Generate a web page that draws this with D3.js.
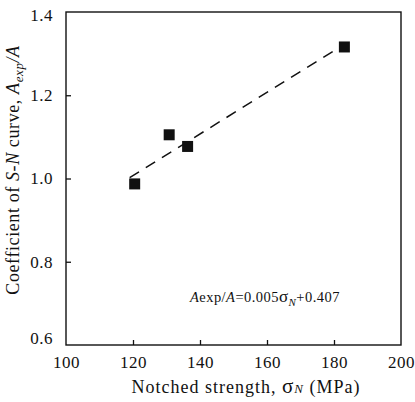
<!DOCTYPE html>
<meta charset="utf-8">
<style>
    body { margin: 0; background: #fff; }
    svg, .tick text { font-family: "Liberation Serif", "Times New Roman", serif; }
    .tick text { font-size: 17px; fill: #111; letter-spacing: 0.5px; }
    .tick line { stroke: #111; stroke-width: 1.3px; }
    .domain { display: none; }
</style>
<body>
<script src="https://d3js.org/d3.v7.min.js"></script>
<script>
    // data
    var strength = [120.5, 130.8, 136.3, 183.1];
    var coeff = [0.987, 1.105, 1.077, 1.316];
    // fitted line: Aexp/A = 0.005*sN + 0.407
    var fitSlope = 0.005, fitIntercept = 0.407;
    var fitRange = [119, 181.2];
    var xTicks = [100, 120, 140, 160, 180, 200];
    var yTicks = [0.6, 0.8, 1.0, 1.2, 1.4];

    var width = 415, height = 402;
    var margin = {top: 12, right: 14, bottom: 57, left: 66};

    var x = d3.scaleLinear().domain([100, 200]).range([margin.left, width - margin.right]);
    var y = d3.scaleLinear().domain([0.6, 1.4]).range([height - margin.bottom, margin.top]);

    var svg = d3.select("body").append("svg")
        .attr("width", width)
        .attr("height", height);

    // x axis, ticks point inward
    var gx = svg.append("g")
        .attr("transform", "translate(0," + y(0.6) + ")")
        .call(d3.axisBottom(x).tickValues(xTicks).tickFormat(d3.format("d")).tickSize(-5).tickPadding(11));
    gx.selectAll(".tick line").filter(function (d) { return d == 100 || d == 200; }).remove();

    // y axis
    var gy = svg.append("g")
        .attr("transform", "translate(" + x(100) + ",0)")
        .call(d3.axisLeft(y).tickValues(yTicks).tickFormat(d3.format(".1f")).tickSize(-5).tickPadding(13));
    gy.selectAll(".tick line").filter(function (d) { return d == 0.6 || d == 1.4; }).remove();
    // end labels sit a little inside the frame in the original
    gy.selectAll(".tick text").attr("dy", function (d) {
        if (d == 0.6) return "-0.1em";
        if (d == 1.4) return "0.5em";
        return "0.32em";
    });

    // frame
    svg.append("rect")
        .attr("x", x(100))
        .attr("y", y(1.4))
        .attr("width", x(200) - x(100))
        .attr("height", y(0.6) - y(1.4))
        .attr("fill", "none")
        .attr("stroke", "#111")
        .attr("stroke-width", 1.4);

    // dashed fit line
    svg.append("line")
        .attr("x1", x(fitRange[0]))
        .attr("y1", y(fitSlope * fitRange[0] + fitIntercept))
        .attr("x2", x(fitRange[1]))
        .attr("y2", y(fitSlope * fitRange[1] + fitIntercept))
        .attr("stroke", "#111")
        .attr("stroke-width", 1.5)
        .attr("stroke-dasharray", "11,8");

    // square markers
    var s = 11;
    svg.append("g")
        .selectAll("rect")
        .data(strength)
        .enter().append("rect")
        .attr("x", function (d) { return x(d) - s / 2; })
        .attr("y", function (d, i) { return y(coeff[i]) - s / 2; })
        .attr("width", s)
        .attr("height", s)
        .attr("fill", "#111");

    // equation
    var eq = svg.append("text")
        .attr("x", 190)
        .attr("y", 302)
        .attr("font-size", 14.5)
        .attr("letter-spacing", 0.45)
        .attr("fill", "#111");
    eq.append("tspan").attr("font-style", "italic").text("A");
    eq.append("tspan").text("exp/");
    eq.append("tspan").attr("font-style", "italic").text("A");
    eq.append("tspan").text("=0.005");
    eq.append("tspan").attr("font-size", 17).text("σ");
    eq.append("tspan").attr("font-style", "italic").attr("font-size", 11).attr("dy", 4).text("N");
    eq.append("tspan").attr("dy", -4).text("+0.407");

    // x label
    var xl = svg.append("text")
        .attr("x", 246)
        .attr("y", 393)
        .attr("text-anchor", "middle")
        .attr("font-size", 18)
        .attr("letter-spacing", 1)
        .attr("fill", "#111");
    xl.append("tspan").text("Notched strength, ");
    xl.append("tspan").attr("font-size", 21).text("σ");
    xl.append("tspan").attr("font-style", "italic").attr("font-size", 13).text("N");
    xl.append("tspan").text(" (MPa)");

    // y label
    var yl = svg.append("text")
        .attr("transform", "translate(19,170) rotate(-90)")
        .attr("text-anchor", "middle")
        .attr("font-size", 18)
        .attr("letter-spacing", 0.6)
        .attr("fill", "#111");
    yl.append("tspan").text("Coefficient of ");
    yl.append("tspan").attr("font-style", "italic").text("S-N");
    yl.append("tspan").text(" curve, ");
    yl.append("tspan").attr("font-style", "italic").text("A");
    yl.append("tspan").attr("font-style", "italic").attr("font-size", 13).attr("dy", 4).text("exp");
    yl.append("tspan").attr("font-style", "italic").attr("dy", -4).text("/A");
</script>
</body>
